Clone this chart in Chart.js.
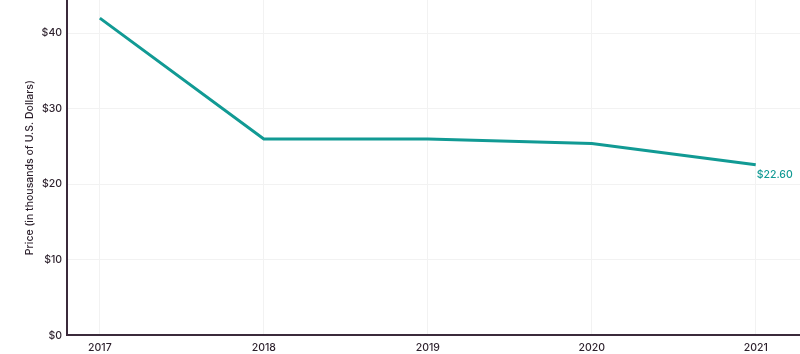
<!DOCTYPE html>
<html>
<head>
<meta charset="utf-8">
<script src="https://cdn.jsdelivr.net/npm/chart.js@4"></script>
<style>
html,body{margin:0;padding:0;background:#fff;}
#wrap{position:relative;width:800px;height:354px;}
</style>
</head>
<body>
<div id="wrap"><canvas id="c" width="800" height="354"></canvas></div>
<script>
const years = [2017, 2018, 2019, 2020, 2021];
const prices = [42.0, 26.0, 26.0, 25.4, 22.6];
const yTicks = [0, 10, 20, 30, 40];
const yTitle = 'Price (in thousands of U.S. Dollars)';
const endLabel = '$22.60';

const teal = '#119a94';
const axisColor = '#3b2a3b';
const textColor = '#2b1f2b';
const fontFam = 'Inter, "Open Sans", sans-serif';

const endLabelPlugin = {
  id: 'endLabel',
  afterDatasetsDraw(chart) {
    const {ctx, scales} = chart;
    const i = prices.length - 1;
    const x = scales.x.getPixelForValue(years[i]);
    const y = scales.y.getPixelForValue(prices[i]);
    ctx.save();
    ctx.fillStyle = teal;
    ctx.font = '500 10.5px ' + fontFam;
    ctx.textAlign = 'left';
    ctx.textBaseline = 'middle';
    ctx.fillText(endLabel, x + 1, y + 10);
    ctx.restore();
  }
};

new Chart(document.getElementById('c'), {
  type: 'line',
  data: {
    datasets: [{
      data: years.map((y, i) => ({x: y, y: prices[i]})),
      borderColor: teal,
      borderWidth: 3,
      pointRadius: 0,
      tension: 0,
      fill: false,
      clip: false
    }]
  },
  options: {
    responsive: false,
    animation: false,
    layout: {autoPadding: false, padding: {top: 0, right: 0, left: 24, bottom: -6}},
    plugins: {legend: {display: false}, tooltip: {enabled: false}},
    scales: {
      x: {
        type: 'linear',
        min: 2016.8,
        max: 2021.27,
        afterBuildTicks(axis) { axis.ticks = years.map(v => ({value: v})); },
        grid: {color: '#f2f2f2', lineWidth: 1, drawTicks: false},
        border: {color: axisColor, width: 2},
        ticks: {
          color: textColor,
          font: {family: fontFam, size: 10.5, weight: '500'},
          padding: 6,
          maxRotation: 0,
          callback: v => String(v)
        }
      },
      y: {
        min: 0,
        max: 44.4,
        afterBuildTicks(axis) { axis.ticks = yTicks.map(v => ({value: v})); },
        afterFit(scale) { scale.paddingTop = 0; },
        grid: {color: '#f2f2f2', lineWidth: 1, drawTicks: false},
        border: {color: axisColor, width: 2},
        title: {
          display: true,
          text: yTitle,
          color: textColor,
          font: {family: fontFam, size: 10.5, weight: '500'},
          padding: {top: 0, bottom: 0}
        },
        ticks: {
          color: textColor,
          font: {family: fontFam, size: 10.5, weight: '500'},
          padding: 5,
          callback: v => '$' + v
        }
      }
    }
  },
  plugins: [endLabelPlugin]
});
</script>
</body>
</html>
